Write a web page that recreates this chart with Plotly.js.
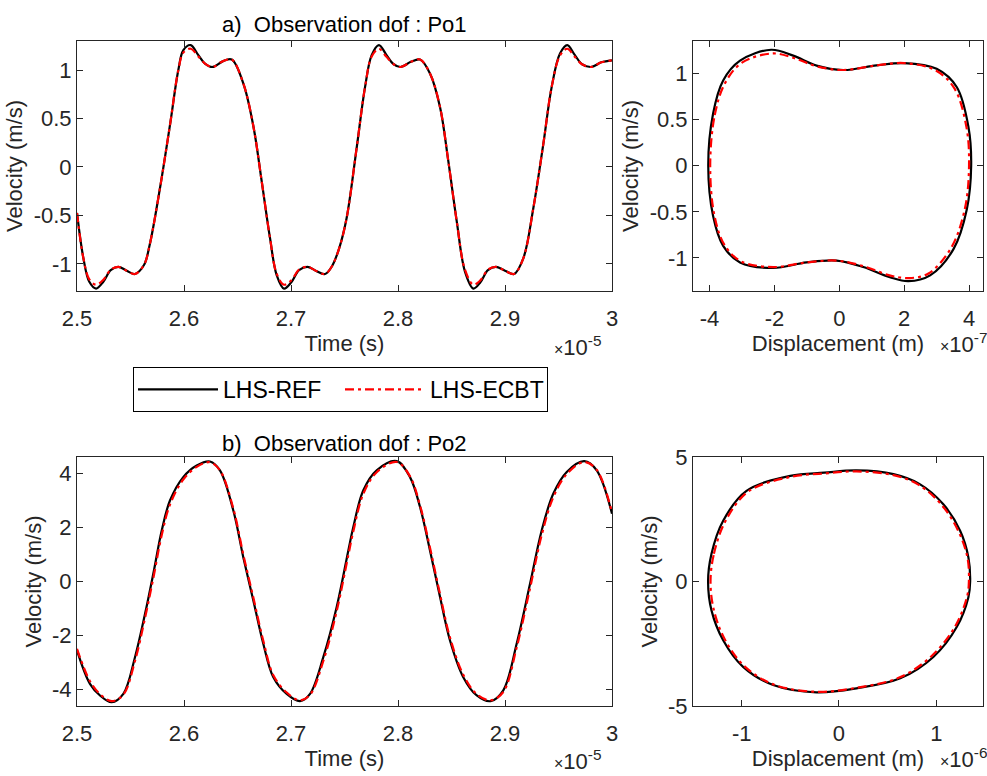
<!DOCTYPE html>
<html><head><meta charset="utf-8">
<script src="https://cdn.plot.ly/plotly-3.0.1.min.js"></script>
<style>html,body{margin:0;padding:0;background:#fff}#chart{width:987px;height:776px}</style>
</head><body><div id="chart"></div>
<script>
// ---- Po1 time history (time in 1e-5 s, velocity in m/s) ----
var tPo1 = [2.500, 2.506, 2.5115, 2.5178, 2.5246, 2.5315, 2.5386, 2.5464, 2.554, 2.5626, 2.568, 2.5776, 2.587, 2.5947, 2.5994, 2.6062, 2.6134, 2.6196, 2.6268, 2.6361, 2.6446, 2.6555, 2.665, 2.6726, 2.6804, 2.6866, 2.6935, 2.7003, 2.7075, 2.7153, 2.7230, 2.7318, 2.7380, 2.7450, 2.752, 2.7614, 2.7692, 2.7754, 2.7822, 2.789, 2.796, 2.8028, 2.812, 2.8206, 2.83, 2.8393, 2.847, 2.8549, 2.8626, 2.8704, 2.877, 2.884, 2.8913, 2.900, 2.9084, 2.9171, 2.9265, 2.9358, 2.9436, 2.9514, 2.9582, 2.965, 2.972, 2.981, 2.990, 3.000];
var vPo1Ref = [-0.475, -0.943, -1.185, -1.255, -1.185, -1.064, -1.03, -1.07, -1.105, -1.012, -0.80, -0.215, 0.44, 1.0, 1.206, 1.258, 1.154, 1.067, 1.032, 1.09, 1.109, 0.86, 0.41, -0.146, -0.735, -1.115, -1.255, -1.19, -1.065, -1.03, -1.07, -1.105, -1.03, -0.84, -0.527, 0.2, 0.824, 1.154, 1.258, 1.16, 1.06, 1.032, 1.085, 1.109, 0.963, 0.617, 0.062, -0.561, -1.08, -1.255, -1.19, -1.065, -1.03, -1.07, -1.105, -0.943, -0.423, 0.236, 0.824, 1.171, 1.258, 1.16, 1.06, 1.032, 1.08, 1.10];
var vPo1Ecbt = [-0.475, -0.943, -1.16, -1.215, -1.165, -1.06, -1.03, -1.07, -1.105, -1.012, -0.80, -0.215, 0.44, 1.0, 1.18, 1.22, 1.14, 1.067, 1.032, 1.09, 1.109, 0.86, 0.41, -0.146, -0.735, -1.10, -1.215, -1.17, -1.06, -1.03, -1.07, -1.105, -1.03, -0.84, -0.527, 0.2, 0.824, 1.14, 1.22, 1.14, 1.06, 1.032, 1.085, 1.109, 0.963, 0.617, 0.062, -0.561, -1.06, -1.215, -1.17, -1.06, -1.03, -1.07, -1.105, -0.943, -0.423, 0.236, 0.824, 1.15, 1.22, 1.14, 1.06, 1.032, 1.08, 1.10];

// ---- Po1 phase portrait (displacement in 1e-7 m) ----
var dPo1Ref = [-4.04, -3.89, -3.58, -3.06, -2.10, -1.42, -0.70, 0.12, 1.15, 2.0, 3.0, 3.62, 3.98, 4.065, 3.93, 3.52, 2.80, 2.13, 1.56, 0.74, -0.08, -1.01, -2.04, -3.06, -3.58, -3.89, -4.04];
var pPo1Ref = [0, 0.568, 0.927, 1.142, 1.26, 1.196, 1.088, 1.04, 1.09, 1.115, 1.053, 0.855, 0.424, 0, -0.474, -0.905, -1.19, -1.253, -1.21, -1.10, -1.03, -1.05, -1.11, -1.05, -0.87, -0.546, 0];
var dPo1Ecbt = [-3.98, -3.84, -3.52, -3.0, -2.05, -1.4, -0.70, 0.12, 1.15, 2.0, 2.95, 3.55, 3.92, 4.0, 3.87, 3.45, 2.75, 2.15, 1.55, 0.74, -0.08, -1.01, -2.04, -3.02, -3.54, -3.85, -3.98];
var pPo1Ecbt = [0, 0.55, 0.9, 1.12, 1.22, 1.17, 1.08, 1.04, 1.09, 1.115, 1.04, 0.84, 0.42, 0, -0.47, -0.89, -1.17, -1.22, -1.19, -1.09, -1.03, -1.05, -1.10, -1.04, -0.86, -0.54, 0];

// ---- Po2 time history ----
var tPo2 = [2.500, 2.5121, 2.5215, 2.5324, 2.5433, 2.5542, 2.5636, 2.5713, 2.5792, 2.5869, 2.5993, 2.6119, 2.6243, 2.6336, 2.6461, 2.6554, 2.6648, 2.6741, 2.6835, 2.696, 2.7084, 2.7178, 2.7302, 2.7427, 2.7536, 2.7582, 2.7676, 2.7801, 2.7988, 2.8112, 2.8206, 2.8299, 2.8393, 2.8486, 2.8610, 2.8736, 2.8866, 2.8984, 2.9109, 2.9234, 2.9343, 2.9451, 2.9577, 2.9741, 2.9857, 3.000];
var vPo2Ref = [-2.56, -3.80, -4.23, -4.48, -4.17, -2.81, -1.20, 0.285, 1.89, 3.0, 3.87, 4.30, 4.45, 4.12, 2.63, 0.90, -0.705, -2.31, -3.55, -4.17, -4.44, -4.17, -2.81, -0.95, 1.15, 2.01, 3.38, 4.12, 4.46, 3.87, 2.76, 1.15, -0.58, -2.19, -3.55, -4.23, -4.44, -4.04, -2.31, -0.09, 1.89, 3.25, 4.06, 4.46, 4.12, 2.51];
var vPo2Ecbt = [-2.50, -3.70, -4.18, -4.44, -4.20, -2.95, -1.35, 0.12, 1.72, 2.85, 3.78, 4.25, 4.42, 4.12, 2.70, 1.00, -0.60, -2.20, -3.48, -4.12, -4.41, -4.20, -2.95, -1.10, 0.98, 1.85, 3.25, 4.05, 4.43, 3.90, 2.82, 1.25, -0.48, -2.08, -3.46, -4.18, -4.41, -4.10, -2.45, -0.25, 1.72, 3.12, 3.98, 4.43, 4.14, 2.55];

// ---- Po2 phase portrait (displacement in 1e-6 m) ----
var dPo2Ref = [-1.345, -1.31, -1.19, -0.95, -0.50, -0.15, 0.18, 0.56, 0.83, 1.07, 1.245, 1.33, 1.348, 1.33, 1.21, 0.97, 0.63, 0.18, -0.23, -0.676, -0.985, -1.19, -1.31, -1.345];
var pPo2Ref = [0, 1.11, 2.44, 3.64, 4.24, 4.37, 4.46, 4.31, 3.91, 3.11, 2.04, 0.97, 0, -0.63, -1.83, -3.03, -3.89, -4.29, -4.45, -4.16, -3.43, -2.36, -1.16, 0];
var dPo2Ecbt = [-1.32, -1.285, -1.165, -0.93, -0.50, -0.15, 0.18, 0.56, 0.82, 1.05, 1.225, 1.32, 1.335, 1.315, 1.19, 0.95, 0.62, 0.18, -0.23, -0.67, -0.97, -1.17, -1.285, -1.32];
var pPo2Ecbt = [0, 1.11, 2.44, 3.62, 4.2, 4.34, 4.42, 4.27, 3.88, 3.10, 2.04, 0.97, 0, -0.63, -1.83, -3.0, -3.86, -4.27, -4.43, -4.14, -3.41, -2.35, -1.16, 0];

// ---- ticks and labels ----
var timeTicks = [2.5, 2.6, 2.7, 2.8, 2.9, 3.0];
var timeTickText = ['2.5', '2.6', '2.7', '2.8', '2.9', '3'];
var v1Ticks = [-1, -0.5, 0, 0.5, 1];
var v1TickText = ['-1', '-0.5', '0', '0.5', '1'];
var d1Ticks = [-4, -2, 0, 2, 4];
var d1TickText = ['-4', '-2', '0', '2', '4'];
var v2Ticks = [-4, -2, 0, 2, 4];
var v2TickText = ['-4', '-2', '0', '2', '4'];
var d2Ticks = [-1, 0, 1];
var d2TickText = ['-1', '0', '1'];
var p2Ticks = [-5, 0, 5];
var p2TickText = ['-5', '0', '5'];
var seriesNames = ['LHS-REF', 'LHS-ECBT'];
var panelTitles = ['a)\u00a0\u00a0Observation dof : Po1', 'b)\u00a0\u00a0Observation dof : Po2'];

var F = '"Liberation Sans", Arial, Helvetica, sans-serif';
var TXT = '#262626';
var FS = 22;
var W = 987, H = 776;

var refLine = {color: '#000000', width: 2.2, shape: 'spline', smoothing: 1};
var ecbtLine = {color: '#ff0000', width: 2.2, dash: '9px,4px,3px,4px', shape: 'spline', smoothing: 1};

function tr(x, y, xa, ya, name, line, show) {
  return {type: 'scatter', mode: 'lines', x: x, y: y, xaxis: xa, yaxis: ya, name: name,
          line: line, showlegend: show, legendgroup: name, hoverinfo: 'skip'};
}

var data = [
  tr(tPo1, vPo1Ref, 'x', 'y', seriesNames[0], refLine, true),
  tr(tPo1, vPo1Ecbt, 'x', 'y', seriesNames[1], ecbtLine, true),
  tr(dPo1Ref, pPo1Ref, 'x2', 'y2', seriesNames[0], refLine, false),
  tr(dPo1Ecbt, pPo1Ecbt, 'x2', 'y2', seriesNames[1], ecbtLine, false),
  tr(tPo2, vPo2Ref, 'x3', 'y3', seriesNames[0], refLine, false),
  tr(tPo2, vPo2Ecbt, 'x3', 'y3', seriesNames[1], ecbtLine, false),
  tr(dPo2Ref, pPo2Ref, 'x4', 'y4', seriesNames[0], refLine, false),
  tr(dPo2Ecbt, pPo2Ecbt, 'x4', 'y4', seriesNames[1], ecbtLine, false)
];

function ax(o) {
  var base = {showline: true, linecolor: TXT, linewidth: 1, mirror: 'allticks', ticks: 'inside',
    ticklen: 6, tickcolor: TXT, tickwidth: 1, showgrid: false, zeroline: false,
    tickfont: {family: F, size: FS, color: TXT}, tickmode: 'array', fixedrange: true};
  for (var k in o) base[k] = o[k];
  return base;
}
function ttl(t, s) { return {text: t, font: {family: F, size: FS, color: TXT}, standoff: s}; }

var xL = [77 / W, 612 / W], xR = [693 / W, 983 / W];
var yT = [1 - 291 / H, 1 - 41 / H], yB = [1 - 706 / H, 1 - 457 / H];

var layout = {
  width: W, height: H, margin: {l: 0, r: 0, t: 0, b: 0},
  paper_bgcolor: '#fff', plot_bgcolor: '#fff', showlegend: true,
  xaxis: ax({domain: xL, anchor: 'y', range: [2.5, 3.0], tickvals: timeTicks, ticktext: timeTickText, ticklabelstandoff: 8, title: ttl('Time (s)', 5)}),
  yaxis: ax({domain: yT, anchor: 'x', range: [-1.28, 1.30], tickvals: v1Ticks, ticktext: v1TickText, title: ttl('Velocity (m/s)', 4)}),
  xaxis2: ax({domain: xR, anchor: 'y2', range: [-4.51, 4.43], tickvals: d1Ticks, ticktext: d1TickText, ticklabelstandoff: 8, title: ttl('Displacement (m)', 0)}),
  yaxis2: ax({domain: yT, anchor: 'x2', range: [-1.36, 1.355], tickvals: v1Ticks, ticktext: v1TickText, title: ttl('Velocity (m/s)', 4)}),
  xaxis3: ax({domain: xL, anchor: 'y3', range: [2.5, 3.0], tickvals: timeTicks, ticktext: timeTickText, ticklabelstandoff: 8, title: ttl('Time (s)', 5)}),
  yaxis3: ax({domain: yB, anchor: 'x3', range: [-4.62, 4.615], tickvals: v2Ticks, ticktext: v2TickText, title: ttl('Velocity (m/s)', 4)}),
  xaxis4: ax({domain: xR, anchor: 'y4', range: [-1.5, 1.48], tickvals: d2Ticks, ticktext: d2TickText, ticklabelstandoff: 8, title: ttl('Displacement (m)', 0)}),
  yaxis4: ax({domain: yB, anchor: 'x4', range: [-5, 5], tickvals: p2Ticks, ticktext: p2TickText, title: ttl('Velocity (m/s)', 4)}),
  legend: {orientation: 'h', x: 133 / W, y: 1 - 367 / H, xanchor: 'left', yanchor: 'top',
    bgcolor: '#fff', bordercolor: '#000', borderwidth: 1, font: {family: F, size: 23, color: '#000'},
    entrywidth: 112, itemwidth: 80, tracegroupgap: 0},
  annotations: [
    {text: panelTitles[0], xref: 'paper', yref: 'paper', x: 344.5 / W, y: 1 - 25 / H, showarrow: false, xanchor: 'center', yanchor: 'middle', font: {family: F, size: FS, color: '#000'}},
    {text: panelTitles[1], xref: 'paper', yref: 'paper', x: 344.5 / W, y: 1 - 443 / H, showarrow: false, xanchor: 'center', yanchor: 'middle', font: {family: F, size: FS, color: '#000'}},
    {text: '<span style="font-size:16px">\u00d7</span>10<sup>-5</sup>', xref: 'paper', yref: 'paper', x: 552 / W, y: 1 - 346 / H, showarrow: false, xanchor: 'left', yanchor: 'middle', font: {family: F, size: FS, color: TXT}},
    {text: '<span style="font-size:16px">\u00d7</span>10<sup>-5</sup>', xref: 'paper', yref: 'paper', x: 552 / W, y: 1 - 760 / H, showarrow: false, xanchor: 'left', yanchor: 'middle', font: {family: F, size: FS, color: TXT}},
    {text: '<span style="font-size:16px">\u00d7</span>10<sup>-7</sup>', xref: 'paper', yref: 'paper', x: 938 / W, y: 1 - 343 / H, showarrow: false, xanchor: 'left', yanchor: 'middle', font: {family: F, size: FS, color: TXT}},
    {text: '<span style="font-size:16px">\u00d7</span>10<sup>-6</sup>', xref: 'paper', yref: 'paper', x: 938 / W, y: 1 - 758 / H, showarrow: false, xanchor: 'left', yanchor: 'middle', font: {family: F, size: FS, color: TXT}}
  ]
};

Plotly.newPlot('chart', data, layout, {staticPlot: true, displayModeBar: false});
</script></body></html>
